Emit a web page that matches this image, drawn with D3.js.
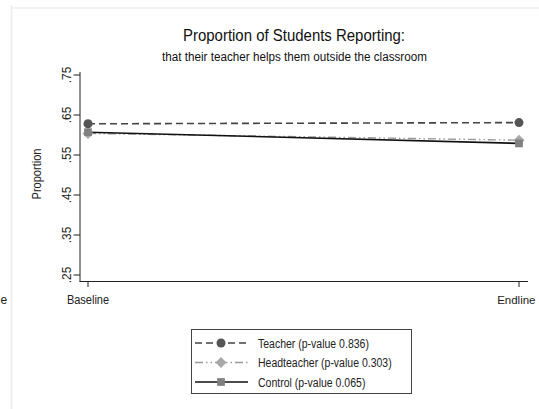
<!DOCTYPE html>
<html>
<head>
<meta charset="utf-8">
<script src="https://cdn.jsdelivr.net/npm/d3@7"></script>
<style>
  html, body { margin: 0; padding: 0; background: #fff; }
  svg { display: block; font-family: "Liberation Sans", Arial, sans-serif; }
</style>
</head>
<body>
<svg id="chart" width="539" height="409"></svg>
<script>
// Survey rounds and group proportions
const rounds = ["Baseline", "Endline"];
const teacher = [0.628, 0.631];
const headteacher = [0.604, 0.587];
const control = [0.607, 0.579];
const yTicks = [0.25, 0.35, 0.45, 0.55, 0.65, 0.75];
const seriesNames = ["Teacher (p-value 0.836)", "Headteacher (p-value 0.303)", "Control (p-value 0.065)"];

const svg = d3.select("#chart");

// Narrow all labels slightly, like the condensed sans used in the export
function condense(sel, factor = 0.88) {
  sel.each(function () {
    const len = this.getComputedTextLength();
    d3.select(this).attr("textLength", len * factor).attr("lengthAdjust", "spacingAndGlyphs");
  });
  return sel;
}

// Neighbouring panel frame and the tail of its axis label on the far left
svg.append("line").attr("x1", 11.5).attr("x2", 11.5).attr("y1", 5).attr("y2", 409)
  .attr("stroke", "#ececec").attr("stroke-width", 1.5);
svg.append("line").attr("x1", 12).attr("x2", 539).attr("y1", 8).attr("y2", 8)
  .attr("stroke", "#efefef").attr("stroke-width", 1.5);
svg.append("text").attr("x", 0.5).attr("y", 304)
  .attr("font-size", 12).attr("fill", "#222").text("e");

// Scales
const x = d3.scalePoint().domain(rounds).range([88, 519]);
const y = d3.scaleLinear().domain([0.25, 0.75]).range([275, 75]);

// Titles
svg.append("text").attr("x", 294).attr("y", 41).attr("text-anchor", "middle")
  .attr("font-size", 16).attr("fill", "#111")
  .attr("textLength", 222).attr("lengthAdjust", "spacingAndGlyphs")
  .text("Proportion of Students Reporting:");
svg.append("text").attr("x", 294.5).attr("y", 61).attr("text-anchor", "middle")
  .attr("font-size", 12).attr("fill", "#111")
  .attr("textLength", 265).attr("lengthAdjust", "spacingAndGlyphs")
  .text("that their teacher helps them outside the classroom");

// Y axis
const yAxis = svg.append("g");
yAxis.append("line").attr("x1", 80).attr("x2", 80).attr("y1", 72).attr("y2", 281.5)
  .attr("stroke", "#222");
yTicks.forEach(t => {
  yAxis.append("line").attr("x1", 73.5).attr("x2", 80).attr("y1", y(t)).attr("y2", y(t))
    .attr("stroke", "#222");
  condense(yAxis.append("text")
    .attr("transform", `translate(71,${y(t)}) rotate(-90)`)
    .attr("text-anchor", "middle").attr("font-size", 12.5).attr("fill", "#222")
    .text(d3.format(".2f")(t).replace(/^0/, "")), 0.95);
});
condense(svg.append("text").attr("transform", "translate(41,174) rotate(-90)")
  .attr("text-anchor", "middle").attr("font-size", 12.5).attr("fill", "#222")
  .text("Proportion"));

// X axis
const xAxis = svg.append("g");
xAxis.append("line").attr("x1", 79.5).attr("x2", 528).attr("y1", 281.5).attr("y2", 281.5)
  .attr("stroke", "#222");
rounds.forEach((r, i) => {
  xAxis.append("line").attr("x1", x(r)).attr("x2", x(r)).attr("y1", 281.5).attr("y2", 287)
    .attr("stroke", "#222");
  // the last label is pinned inside the right edge
  const last = i === rounds.length - 1;
  const t = xAxis.append("text").attr("x", last ? 535.5 : x(r)).attr("y", 304)
    .attr("text-anchor", last ? "end" : "middle")
    .attr("font-size", last ? 11.5 : 12.5).attr("fill", "#222").text(r);
  if (!last) condense(t);
});

// Series styles
const styles = [
  { values: teacher, stroke: "#444", dash: "7,4", width: 1.6, marker: "circle", fill: "#555", size: 64 },
  { values: headteacher, stroke: "#999", dash: "8,3,1.5,3,1.5,3", width: 1.4, marker: "diamond", fill: "#a8a8a8", size: 60 },
  { values: control, stroke: "#111", dash: null, width: 1.6, marker: "square", fill: "#808080", size: 60 }
];
// Stata-style diamond: a square turned 45 degrees
function markerPath(kind, size) {
  const type = kind === "circle" ? d3.symbolCircle : d3.symbolSquare;
  return d3.symbol().type(type).size(size)();
}
const rot = kind => (kind === "diamond" ? " rotate(45)" : "");

const line = d3.line().x((d, i) => x(rounds[i])).y(d => y(d));
const plot = svg.append("g");
[1, 2, 0].forEach(k => {
  const s = styles[k];
  plot.append("path").datum(s.values).attr("d", line)
    .attr("fill", "none").attr("stroke", s.stroke).attr("stroke-width", s.width)
    .attr("stroke-dasharray", s.dash);
});
[1, 2, 0].forEach(k => {
  const s = styles[k];
  plot.selectAll(null).data(s.values).enter().append("path")
    .attr("transform", (d, i) => `translate(${x(rounds[i])},${y(d)})${rot(s.marker)}`)
    .attr("d", markerPath(s.marker, s.size))
    .attr("fill", s.fill);
});

// Legend
const lg = svg.append("g");
lg.append("rect").attr("x", 191.5).attr("y", 329.5).attr("width", 220).attr("height", 64)
  .attr("fill", "#fff").attr("stroke", "#444");
styles.forEach((s, i) => {
  const ly = 343 + i * 19.5;
  lg.append("line").attr("x1", 195).attr("x2", 248).attr("y1", ly).attr("y2", ly)
    .attr("stroke", s.stroke).attr("stroke-width", s.width).attr("stroke-dasharray", s.dash);
  lg.append("path").attr("transform", `translate(221,${ly})${rot(s.marker)}`)
    .attr("d", markerPath(s.marker, s.size)).attr("fill", s.fill);
  condense(lg.append("text").attr("x", 258).attr("y", ly + 4.5).attr("font-size", 12.5).attr("fill", "#222")
    .text(seriesNames[i]), 0.84);
});
</script>
</body>
</html>
